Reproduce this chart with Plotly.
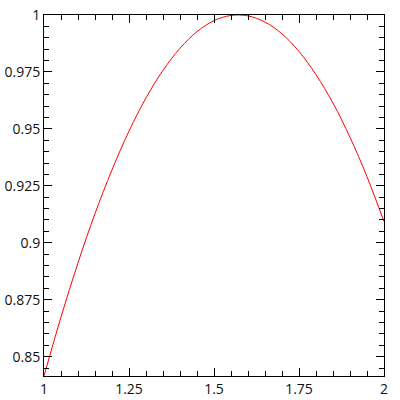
import plotly.graph_objects as go

# values
x = [1.00, 1.05, 1.10, 1.15, 1.20, 1.25, 1.30, 1.35, 1.40, 1.45, 1.50,
     1.55, 1.60, 1.65, 1.70, 1.75, 1.80, 1.85, 1.90, 1.95, 2.00]
y = [0.8415, 0.8674, 0.8912, 0.9128, 0.9320, 0.9490, 0.9636, 0.9757, 0.9854,
     0.9927, 0.9975, 0.9998, 0.9996, 0.9969, 0.9917, 0.9840, 0.9738, 0.9613,
     0.9463, 0.9290, 0.9093]

fig = go.Figure(
    data=[go.Scatter(x=x, y=y, mode='lines',
                     line=dict(color='red', width=1, shape='spline'))]
)

axis_style = dict(
    showgrid=False,
    zeroline=False,
    showline=True,
    linecolor='black',
    linewidth=1,
    mirror='allticks',
    ticks='inside',
    ticklen=8,
    tickcolor='black',
    tickwidth=1,
    automargin=False,
    tickfont=dict(family='Open Sans', size=14, color='#111'),
)

fig.update_layout(
    width=400,
    height=400,
    plot_bgcolor='white',
    paper_bgcolor='white',
    showlegend=False,
    margin=dict(l=44, r=16, t=15, b=24, pad=0),
    xaxis=dict(range=[1, 2], dtick=0.25, tick0=1,
               minor=dict(dtick=0.05, ticks='inside', ticklen=5, tickcolor='black'),
               **axis_style),
    yaxis=dict(range=[0.8415, 1], dtick=0.025, tick0=0.85,
               minor=dict(dtick=0.005, ticks='inside', ticklen=5, tickcolor='black'),
               **axis_style),
)

fig.write_html("out.html", config={'displayModeBar': False},
               post_script="document.body.style.margin='0';")
